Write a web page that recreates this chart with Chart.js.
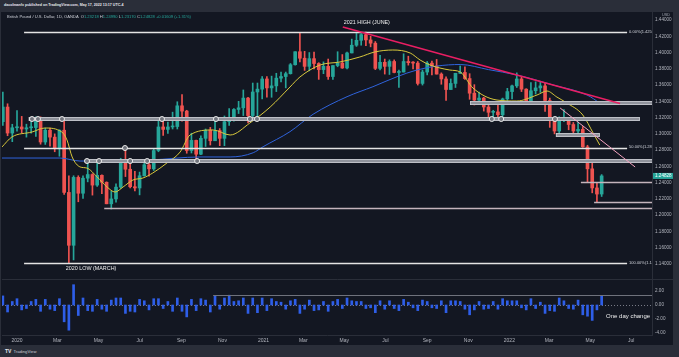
<!DOCTYPE html>
<html><head><meta charset="utf-8">
<script src="https://cdn.jsdelivr.net/npm/chart.js@4.4.1/dist/chart.umd.min.js"></script>
<style>
html,body{margin:0;padding:0;width:679px;height:357px;overflow:hidden;background:#2a2e39;font-family:"Liberation Sans",Arial,sans-serif;}
#top{position:absolute;left:4px;top:3px;font-size:3.6px;font-weight:bold;color:#e6e8ee;white-space:nowrap;}
#panel{position:absolute;left:1px;top:12px;width:672px;height:333px;background:#131722;}
canvas{position:absolute;left:1px;}
#legend{position:absolute;left:7px;top:14px;font-size:4.1px;color:#c8cbd3;white-space:nowrap;}
#legend b{font-weight:normal;color:#26a69a;}
#usd{position:absolute;left:662px;top:13px;font-size:3.8px;color:#9ea2ad;}
#foot{position:absolute;left:5px;top:348px;font-size:4.2px;color:#c8cbd3;white-space:nowrap;}
#foot span{font-weight:bold;font-size:5px;color:#e6e8ee;margin-right:2px;}
</style></head>
<body>
<div id="top">dacolmanfx published on TradingView.com, May 17, 2022 13:17 UTC-4</div>
<div id="panel"></div>
<canvas id="ca" width="672" height="267" style="top:12px"></canvas>
<canvas id="cb" width="672" height="66" style="top:279px"></canvas>
<div id="legend">British Pound / U.S. Dollar, 1D, OANDA &nbsp;O<b>1.23218</b> H<b>1.24990</b> L<b>1.23170</b> C<b>1.24828</b> <b>+0.01609 (+1.31%)</b></div>
<div id="usd">USD</div>
<div id="foot"><span>TV</span>TradingView</div>
<script>
// ---------- DATA (weekly candles, [open, high, low, close]) ----------
const firstWeekCenter = '2019-12-11';
const ohlc2019 = [
 [1.3150,1.3514,1.3105,1.3330],[1.3330,1.3370,1.2977,1.3010],[1.3010,1.3118,1.2904,1.3075],[1.3075,1.3285,1.3034,1.3085]
];
const ohlc2020 = [
 [1.3085,1.3215,1.3012,1.3060],[1.3060,1.3119,1.2960,1.3075],[1.3075,1.3152,1.3010,1.3078],[1.3078,1.3210,1.2970,1.3200],
 [1.3200,1.3210,1.2873,1.2900],[1.2900,1.3070,1.2870,1.3045],[1.3045,1.3070,1.2848,1.2960],[1.2960,1.3000,1.2780,1.2825],
 [1.2825,1.3050,1.2725,1.3045],[1.3045,1.3200,1.2255,1.2280],[1.2280,1.2485,1.1412,1.1630],[1.1630,1.2485,1.1450,1.2465],
 [1.2465,1.2485,1.2165,1.2270],[1.2270,1.2485,1.2205,1.2455],[1.2455,1.2650,1.2410,1.2500],[1.2500,1.2510,1.2247,1.2370],
 [1.2370,1.2645,1.2355,1.2490],[1.2490,1.2495,1.2265,1.2405],[1.2405,1.2410,1.2140,1.2140],[1.2140,1.2295,1.2076,1.2200],
 [1.2200,1.2385,1.2160,1.2345],[1.2345,1.2700,1.2330,1.2665],[1.2665,1.2813,1.2475,1.2565],[1.2565,1.2688,1.2335,1.2350],
 [1.2350,1.2540,1.2300,1.2335],[1.2335,1.2530,1.2250,1.2485],[1.2485,1.2670,1.2480,1.2620],[1.2620,1.2670,1.2480,1.2570],
 [1.2570,1.2820,1.2550,1.2795],[1.2795,1.3170,1.2780,1.3085],[1.3085,1.3185,1.2980,1.3055],[1.3055,1.3145,1.3005,1.3085],
 [1.3085,1.3267,1.3060,1.3090],[1.3090,1.3395,1.3060,1.3345],[1.3345,1.3482,1.3155,1.3280],[1.3280,1.3290,1.2762,1.2795],
 [1.2795,1.3008,1.2765,1.2920],[1.2920,1.2925,1.2676,1.2750],[1.2750,1.2975,1.2745,1.2945],[1.2945,1.3060,1.2845,1.3045],
 [1.3045,1.3080,1.2863,1.2915],[1.2915,1.3177,1.2915,1.3040],[1.3040,1.3065,1.2855,1.2945],[1.2945,1.3220,1.2855,1.3150],
 [1.3150,1.3310,1.3105,1.3190],[1.3190,1.3310,1.3155,1.3300],[1.3300,1.3400,1.3250,1.3320],[1.3320,1.3540,1.3225,1.3440],
 [1.3440,1.3450,1.3135,1.3225],[1.3225,1.3625,1.3205,1.3515],[1.3515,1.3625,1.3190,1.3550],[1.3550,1.3705,1.3430,1.3675]
];
const ohlc2021 = [
 [1.3675,1.3705,1.3450,1.3565],[1.3565,1.3710,1.3450,1.3590],[1.3590,1.3745,1.3520,1.3685],[1.3685,1.3760,1.3640,1.3705],
 [1.3705,1.3760,1.3565,1.3740],[1.3740,1.3865,1.3735,1.3850],[1.3850,1.4010,1.3845,1.4010],[1.4010,1.4240,1.3885,1.3930],
 [1.3930,1.4015,1.3780,1.3830],[1.3830,1.4000,1.3775,1.3925],[1.3925,1.4005,1.3800,1.3865],[1.3865,1.3875,1.3670,1.3790],
 [1.3790,1.3885,1.3740,1.3830],[1.3830,1.3920,1.3670,1.3705],[1.3705,1.3840,1.3670,1.3840],[1.3840,1.4010,1.3825,1.3870],
 [1.3870,1.3975,1.3805,1.3810],[1.3810,1.4005,1.3800,1.3995],[1.3995,1.4165,1.3995,1.4090],[1.4090,1.4235,1.4075,1.4150],
 [1.4150,1.4230,1.4090,1.4220],[1.4220,1.4250,1.4085,1.4155],[1.4155,1.4200,1.4070,1.4115],[1.4115,1.4135,1.3790,1.3805],
 [1.3805,1.3965,1.3785,1.3880],[1.3880,1.3920,1.3735,1.3830],[1.3830,1.3910,1.3730,1.3890],[1.3890,1.3910,1.3750,1.3755],
 [1.3755,1.3785,1.3570,1.3760],[1.3760,1.3985,1.3760,1.3890],[1.3890,1.3955,1.3845,1.3875],[1.3875,1.3890,1.3800,1.3870],
 [1.3870,1.3890,1.3600,1.3620],[1.3620,1.3785,1.3600,1.3760],[1.3760,1.3890,1.3725,1.3870],[1.3870,1.3895,1.3725,1.3835],
 [1.3835,1.3915,1.3735,1.3735],[1.3735,1.3750,1.3610,1.3675],[1.3675,1.3700,1.3410,1.3545],[1.3545,1.3675,1.3545,1.3620],
 [1.3620,1.3745,1.3570,1.3745],[1.3745,1.3835,1.3740,1.3755],[1.3755,1.3825,1.3670,1.3680],[1.3680,1.3740,1.3425,1.3500],
 [1.3500,1.3605,1.3355,1.3415],[1.3415,1.3515,1.3390,1.3440],[1.3440,1.3450,1.3280,1.3330],[1.3330,1.3370,1.3195,1.3265],
 [1.3265,1.3290,1.3160,1.3270],[1.3270,1.3375,1.3210,1.3235],[1.3235,1.3440,1.3190,1.3430],[1.3430,1.3560,1.3410,1.3520]
];
const ohlc2022 = [
 [1.3520,1.3600,1.3430,1.3590],[1.3590,1.3750,1.3570,1.3675],[1.3675,1.3700,1.3520,1.3550],[1.3550,1.3555,1.3360,1.3400],
 [1.3400,1.3630,1.3360,1.3530],[1.3530,1.3640,1.3490,1.3565],[1.3565,1.3645,1.3510,1.3590],[1.3590,1.3620,1.3275,1.3410],
 [1.3410,1.3440,1.3080,1.3180],[1.3180,1.3190,1.3000,1.3035],[1.3035,1.3210,1.3000,1.3170],[1.3170,1.3300,1.3150,1.3180],
 [1.3180,1.3185,1.3050,1.3115],[1.3115,1.3140,1.2980,1.3035],[1.3035,1.3145,1.2975,1.3055],[1.3055,1.3090,1.2835,1.2840],
 [1.2840,1.2860,1.2410,1.2570],[1.2570,1.2640,1.2275,1.2335],[1.2335,1.2400,1.2155,1.2260],[1.2260,1.2499,1.2230,1.2483]
];
// one-day change indicator (largest daily move each week)
const change2019 = [1.3,-1.0,0.5,0.9];
const change2020 = [-0.7,-0.5,0.5,0.8,-0.9,0.8,-0.6,-0.8,0.9,-2.4,-3.6,2.9,-1.5,1.0,-0.8,-0.9,0.8,-0.6,-0.9,0.7,1.0,1.0,-1.2,-0.9,-1.0,0.8,0.6,-0.7,0.9,0.9,-0.5,0.5,-0.9,1.0,-0.9,-1.7,0.8,-0.8,0.9,0.7,-1.0,1.3,-0.6,1.0,1.4,0.5,0.6,1.0,-1.2,1.0,-1.1,1.0];
const change2021 = [-0.8,0.9,0.5,0.4,-0.6,0.6,0.8,-1.2,-0.6,0.7,-0.8,-0.7,0.5,-0.9,0.5,0.8,-0.5,1.0,0.6,0.5,0.5,-0.5,-0.4,-1.1,0.6,-0.6,0.6,-0.5,-0.8,0.8,0.4,-0.4,-0.8,0.7,0.5,-0.4,-0.5,0.6,-1.1,0.6,0.6,0.5,-0.6,-1.4,-0.7,0.5,-0.6,-0.5,0.5,-0.6,0.9,0.6];
const change2022 = [0.6,0.6,-0.4,-0.7,0.9,-0.5,0.4,-1.2,-0.8,-0.9,1.0,0.6,-0.5,-0.6,0.7,-1.4,-1.6,-2.2,-0.7,1.3];
// moving averages: [week offset from 2020-01-01, price]
const maYellow = [[-3.2,1.2838],[-1.1,1.2961],[3.2,1.3023],[5.9,1.3072],[9.5,1.3023],[10.6,1.2925],[11.7,1.2716],[13.4,1.2593],[14.8,1.2580],[17.0,1.2470],[19.1,1.2347],[20.8,1.2285],[22.5,1.2347],[24.6,1.2433],[26.7,1.2457],[28.8,1.2519],[31.8,1.2642],[34.6,1.2777],[36.7,1.2986],[41.6,1.3048],[45.2,1.2986],[49.4,1.3134],[53.7,1.3330],[57.9,1.3576],[60.0,1.3699],[64.3,1.3847],[68.5,1.3884],[72.7,1.3945],[75.9,1.4007],[79.7,1.4031],[83.4,1.3994],[85.5,1.3908],[87.6,1.3847],[91.8,1.3785],[94.0,1.3761],[96.7,1.3564],[101.8,1.3416],[106.0,1.3404],[110.3,1.3478],[112.4,1.3527],[114.5,1.3453],[116.6,1.3380],[120.0,1.3232],[122.2,1.3010],[123.6,1.2863]];
const maBlue = [[-3.2,1.2703],[9.1,1.2703],[13.4,1.2666],[28.2,1.2679],[38.8,1.2716],[45.2,1.2716],[50.1,1.2768],[52.2,1.2842],[57.9,1.3027],[62.8,1.3241],[70.0,1.3457],[75.5,1.3580],[80.6,1.3703],[84.8,1.3785],[89.1,1.3834],[94.0,1.3853],[100.0,1.3790],[106.0,1.3724],[113.7,1.3601],[120.9,1.3478],[123.6,1.3380]];
// axis ticks
const tickDates = ['2020-01-01','2020-03-01','2020-05-01','2020-07-01','2020-09-01','2020-11-01','2021-01-01','2021-03-01','2021-05-01','2021-07-01','2021-09-01','2021-11-01','2022-01-01','2022-03-01','2022-05-01','2022-07-01'];
const tickLabels = ['2020','Mar','May','Jul','Sep','Nov','2021','Mar','May','Jul','Sep','Nov','2022','Mar','May','Jul'];
const priceTicks = [1.14,1.16,1.18,1.20,1.22,1.24,1.26,1.28,1.30,1.32,1.34,1.36,1.38,1.40,1.42,1.44];
const changeTicks = [2,0,-2,-4];
// drawings (week offset, price)
const fibLevels = [1.4250,1.2831,1.1412];
const fibLabels = ['0.00%(1.4250)','50.00%(1.2831)','100.00%(1.1412)'];
const fibSpan = [1.5,129.4];
const zoneLevels = [1.3187,1.2667,1.3380,1.2992];
const zoneFrom = [2.5,14.4,96.1,114.3];
const zoneTo = [132.1,null,null,123.6];
const lineLevels = [1.2092,1.2408,1.2166];
const lineFrom = [18.5,119.6,122.4];
const circlesA = [3.18,4.45,9.54,30.75,42.2,49.4,50.9,100.7,102.7,114.1];
const circlesB = [14.85,17.4,24.0,27.6,38.2];
const circlesFib = [22.9];
const trendMain = [[69.1,1.4314],[127.9,1.3373]];
const trendMinor = [[115.2,1.3318],[131.1,1.2593]];
const notes = [['2021 HIGH (JUNE)',74.2,1.4363],['2020 LOW (MARCH)',15.7,1.1339]];
const lastPrice = 1.24828;
const changeRef = 1.43, changeRefFrom = 41.6;
const changeNote = ['One day change',129.6,-1.57];

// ---------- helpers ----------
const DAY = 86400000, ORIGIN = Date.UTC(2020,0,1);
function wk(s){const [y,m,d]=s.split('-').map(Number);return (Date.UTC(y,m-1,d)-ORIGIN)/DAY/7;}
const x0 = wk(firstWeekCenter);
const candles = [...ohlc2019,...ohlc2020,...ohlc2021,...ohlc2022];
const changes = [...change2019,...change2020,...change2021,...change2022];
const tickPos = tickDates.map(wk);
const X_MIN = -3.181, X_MAX = 134.68;
const PX = 0.3/244; // price per pixel in the upper panel
const GREEN='#26a69a', RED='#ef5350';
const cColors = candles.map(c=>c[3]>=c[0]?GREEN:RED);
const FONT = '"Liberation Sans", Arial, sans-serif';
const bgPlugin = {id:'bg',beforeDraw(c){const g=c.ctx;g.save();g.fillStyle='#131722';g.fillRect(0,0,c.width,c.height);g.restore();}};
function yAxisFit(s){s.width=21;s.paddingTop=0;s.paddingBottom=0;}

// ---------- price panel ----------
const drawPlugin = {id:'drawings',afterDatasetsDraw(c){
  const g=c.ctx, xs=c.scales.x, ys=c.scales.y, a=c.chartArea;
  const X=v=>xs.getPixelForValue(v), Y=v=>ys.getPixelForValue(v);
  g.save(); g.beginPath(); g.rect(a.left,a.top,a.right-a.left,a.bottom-a.top); g.clip();
  g.font='4px '+FONT; g.textBaseline='middle';
  fibLevels.forEach((p,i)=>{
    g.strokeStyle='#e4e4e4'; g.lineWidth=1.6; g.beginPath();
    g.moveTo(X(fibSpan[0]),Math.round(Y(p))+0.5); g.lineTo(X(fibSpan[1]),Math.round(Y(p))+0.5); g.stroke();
    g.fillStyle='#d1d4dc'; g.fillText(fibLabels[i],X(fibSpan[1])+2,Y(p)-0.5);
  });
  zoneLevels.forEach((p,i)=>{
    const x1=X(zoneFrom[i]), x2=zoneTo[i]==null?a.right+2:X(zoneTo[i]), y=Math.round(Y(p));
    g.fillStyle='#8f929b'; g.fillRect(x1,y-2,x2-x1,4);
    g.strokeStyle='#c9cbd1'; g.lineWidth=0.8; g.strokeRect(x1+0.4,y-1.6,x2-x1-0.8,3.2);
  });
  lineLevels.forEach((p,i)=>{
    const y=Math.round(Y(p))+0.5;
    g.strokeStyle='#c4b4bc'; g.lineWidth=1.6; g.beginPath(); g.moveTo(X(lineFrom[i]),y); g.lineTo(a.right+2,y); g.stroke();
  });
  g.strokeStyle='#e91e63'; g.lineWidth=1.6; g.beginPath();
  g.moveTo(X(trendMain[0][0]),Y(trendMain[0][1])); g.lineTo(X(trendMain[1][0]),Y(trendMain[1][1])); g.stroke();
  g.strokeStyle='#f4a3c0'; g.lineWidth=1; g.beginPath();
  g.moveTo(X(trendMinor[0][0]),Y(trendMinor[0][1])); g.lineTo(X(trendMinor[1][0]),Y(trendMinor[1][1])); g.stroke();
  const circ=(w,p)=>{g.beginPath();g.arc(X(w),Math.round(Y(p)),2.5,0,Math.PI*2);g.fillStyle='rgba(110,113,122,0.9)';g.fill();g.strokeStyle='#ececec';g.lineWidth=1;g.stroke();};
  circlesA.forEach(w=>circ(w,zoneLevels[0]));
  circlesB.forEach(w=>circ(w,zoneLevels[1]));
  circlesFib.forEach(w=>circ(w,fibLevels[1]));
  g.font='5.4px '+FONT; g.fillStyle='#eeeeee'; g.textAlign='center'; g.textBaseline='middle';
  notes.forEach(n=>g.fillText(n[0],X(n[1]),Y(n[2])));
  g.restore();
  const yb=Y(lastPrice);
  g.save(); g.fillStyle=GREEN; g.fillRect(a.right+1,yb-3,22,6);
  g.fillStyle='#ffffff'; g.font='4.6px '+FONT; g.textBaseline='middle'; g.textAlign='left';
  g.fillText(lastPrice.toFixed(5),a.right+3,yb+0.2); g.restore();
}};

new Chart(document.getElementById('ca'),{
  type:'bar',
  data:{datasets:[
    {type:'line',data:maYellow.map(p=>({x:p[0],y:p[1]})),borderColor:'#d8c83c',borderWidth:1,pointRadius:0,cubicInterpolationMode:'monotone',order:0},
    {type:'line',data:maBlue.map(p=>({x:p[0],y:p[1]})),borderColor:'#2f63dc',borderWidth:1,pointRadius:0,cubicInterpolationMode:'monotone',order:0},
    {data:candles.map((c,i)=>({x:x0+i,y:[c[2],c[1]]})),backgroundColor:cColors,barThickness:1,grouped:false,order:2},
    {data:candles.map((c,i)=>({x:x0+i,y:[c[0],c[3]]})),backgroundColor:cColors,barThickness:3,minBarLength:1,grouped:false,order:1}
  ]},
  options:{
    animation:false,responsive:false,events:[],
    layout:{padding:{left:1,right:0,top:0,bottom:0}},
    plugins:{legend:{display:false},tooltip:{enabled:false}},
    scales:{
      x:{type:'linear',min:X_MIN,max:X_MAX,display:false,offset:false},
      y:{position:'right',min:1.14-15*PX,max:1.44+8*PX,
         afterBuildTicks:s=>{s.ticks=priceTicks.map(v=>({value:v}));},
         afterFit:yAxisFit,
         ticks:{font:{size:4.6,family:FONT},color:'#b2b5be',padding:3,callback:v=>Number(v).toFixed(5)},
         grid:{display:false,drawTicks:false},border:{display:true,color:'#2a2e39'}}
    }
  },
  plugins:[bgPlugin,drawPlugin]
});

// ---------- one-day change panel ----------
const changePlugin = {id:'chg',
  beforeDatasetsDraw(c){
    const g=c.ctx, a=c.chartArea, y=Math.round(c.scales.y.getPixelForValue(0))+0.5;
    g.save(); g.strokeStyle='#787b86'; g.lineWidth=1; g.setLineDash([1,2]);
    g.beginPath(); g.moveTo(a.left,y); g.lineTo(a.right,y); g.stroke();
    g.setLineDash([]); g.strokeStyle='#2a2e39'; g.beginPath(); g.moveTo(a.left,0.5); g.lineTo(a.right+21,0.5); g.stroke();
    g.restore();
  },
  afterDatasetsDraw(c){
    const g=c.ctx, a=c.chartArea, xs=c.scales.x, ys=c.scales.y;
    g.save();
    const yr=Math.round(ys.getPixelForValue(changeRef))+0.5;
    g.strokeStyle='#6f727c'; g.lineWidth=1; g.beginPath(); g.moveTo(xs.getPixelForValue(changeRefFrom),yr); g.lineTo(a.right,yr); g.stroke();
    g.font='6px '+FONT; g.fillStyle='#eeeeee'; g.textAlign='center'; g.textBaseline='middle';
    g.fillText(changeNote[0],xs.getPixelForValue(changeNote[1]),ys.getPixelForValue(changeNote[2]));
    g.restore();
  }
};
new Chart(document.getElementById('cb'),{
  type:'bar',
  data:{datasets:[
    {data:changes.map((v,i)=>({x:x0+i,y:v})),backgroundColor:'#2e5ee8',barThickness:2,grouped:false}
  ]},
  options:{
    animation:false,responsive:false,events:[],
    layout:{padding:{left:1,right:0,top:0,bottom:0}},
    plugins:{legend:{display:false},tooltip:{enabled:false}},
    scales:{
      x:{type:'linear',min:X_MIN,max:X_MAX,offset:false,
         afterBuildTicks:s=>{s.ticks=tickPos.map(v=>({value:v}));},
         afterFit:s=>{s.height=10;s.paddingLeft=0;s.paddingRight=0;},
         ticks:{font:{size:5,family:FONT},color:'#b2b5be',padding:3,maxRotation:0,autoSkip:false,callback:(v,i)=>tickLabels[i]},
         grid:{display:false,drawTicks:false},border:{display:true,color:'#2a2e39'}},
      y:{position:'right',min:-30/7,max:26/7,
         afterBuildTicks:s=>{s.ticks=changeTicks.map(v=>({value:v}));},
         afterFit:yAxisFit,
         ticks:{font:{size:4.6,family:FONT},color:'#b2b5be',padding:3,callback:v=>Number(v).toFixed(2)},
         grid:{display:false,drawTicks:false},border:{display:true,color:'#2a2e39'}}
    }
  },
  plugins:[bgPlugin,changePlugin]
});
</script>
</body></html>
